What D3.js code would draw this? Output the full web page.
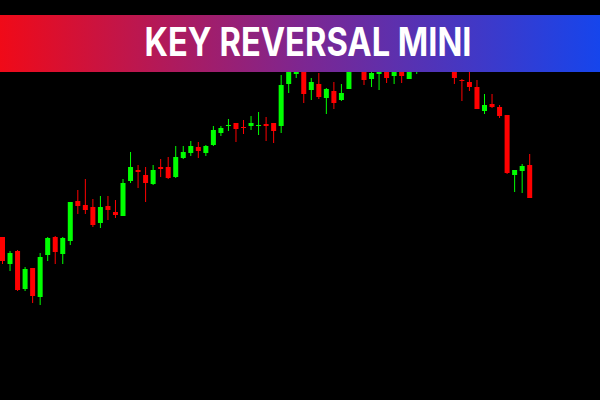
<!DOCTYPE html>
<html>
<head>
<meta charset="utf-8">
<script src="https://cdn.jsdelivr.net/npm/d3@7"></script>
<style>
  body { margin: 0; background: #000; }
</style>
</head>
<body>
<div id="chart"></div>
<script>
// chart size
var width = 600, height = 400;

var title = "KEY REVERSAL MINI";

// candle data (price units), one entry per bar
var opens  = [163,136,149,111,132,103,145,163,146,159, 199,195,193,177,194,188,184,219,230,225,
              216,233,233,223,242,247,253,247,255,267, 274,277,273,274,274,276,277,274,316,326,
              334,310,316,302,309,300,311,330,332,321, 326,332,324,332,321,329,330,334,332,329,
              332,320,318,313,289,296,293,285,225,229, 235];
var closes = [139,147,110,131,104,143,162,148,162,198, 194,190,175,193,190,185,217,233,228,217,
              230,231,222,243,248,254,249,254,270,272, 275,271,272,277,275,274,269,315,335,331,
              306,318,303,311,297,307,332,336,320,327, 330,322,330,324,330,334,336,332,328,334,
              322,319,313,291,295,293,284,227,230,234, 202];
var highs  = [163,149,150,133,132,147,163,164,163,198, 210,221,201,204,204,200,221,248,235,233,
              235,241,243,254,254,259,258,255,274,274, 281,277,280,284,288,283,277,325,340,336,
              340,322,327,312,318,316,338,340,338,334, 336,337,336,337,336,338,338,338,338,338,
              338,321,328,320,306,306,295,285,230,236, 246];
var lows   = [136,129,109,109, 97, 95,139,136,136,155, 186,186,173,172,180,182,184,217,212,198,
              215,223,221,222,241,244,242,244,254,264, 269,258,266,270,265,259,257,267,307,322,
              297,300,301,286,291,299,311,328,315,313, 310,317,316,317,321,326,328,330,332,330,
              316,299,309,291,286,292,282,226,208,207, 202];

var xs = d3.scaleLinear()
  .domain([0, opens.length - 1])
  .range([2.5, 529.7]);

var y = d3.scaleLinear()
  .domain([0, 400])
  .range([height, 0]);

var bodyW = 5;

var candles = opens.map(function(o, i) {
  return {i: i, o: o, c: closes[i], h: highs[i], l: lows[i]};
});

var svg = d3.select("#chart")
  .append("svg")
    .attr("width", width)
    .attr("height", height)
    .style("display", "block");

svg.append("rect")
  .attr("width", width)
  .attr("height", height)
  .attr("fill", "#000");

function col(d) { return d.c >= d.o ? "#00ff00" : "#ff0000"; }

// wicks
svg.append("g")
  .selectAll("line")
  .data(candles)
  .enter()
  .append("line")
    .attr("x1", function(d) { return xs(d.i); })
    .attr("x2", function(d) { return xs(d.i); })
    .attr("y1", function(d) { return y(d.h); })
    .attr("y2", function(d) { return y(d.l); })
    .attr("stroke", col)
    .attr("stroke-width", 1);

// bodies
svg.append("g")
  .selectAll("rect")
  .data(candles)
  .enter()
  .append("rect")
    .attr("x", function(d) { return xs(d.i) - bodyW / 2; })
    .attr("y", function(d) { return y(Math.max(d.o, d.c)); })
    .attr("width", bodyW)
    .attr("height", function(d) { return Math.max(1, Math.abs(y(d.o) - y(d.c))); })
    .attr("fill", col);

// title banner
var grad = svg.append("defs").append("linearGradient")
  .attr("id", "bannerGrad")
  .attr("x1", "0%").attr("x2", "100%")
  .attr("y1", "0%").attr("y2", "0%");
grad.append("stop").attr("offset", "0%").attr("stop-color", "#f00a18");
grad.append("stop").attr("offset", "50%").attr("stop-color", "#7e2690");
grad.append("stop").attr("offset", "100%").attr("stop-color", "#1645ec");

svg.append("rect")
  .attr("x", 0)
  .attr("y", 15)
  .attr("width", width)
  .attr("height", 57)
  .attr("fill", "url(#bannerGrad)");

svg.append("text")
  .attr("x", 308)
  .attr("y", 56)
  .attr("text-anchor", "middle")
  .attr("fill", "#fff")
  .style("font-family", "Inter, 'Open Sans', sans-serif")
  .style("font-weight", "700")
  .style("font-size", "39px")
  .attr("textLength", 327)
  .attr("lengthAdjust", "spacingAndGlyphs")
  .text(title);
</script>
</body>
</html>
